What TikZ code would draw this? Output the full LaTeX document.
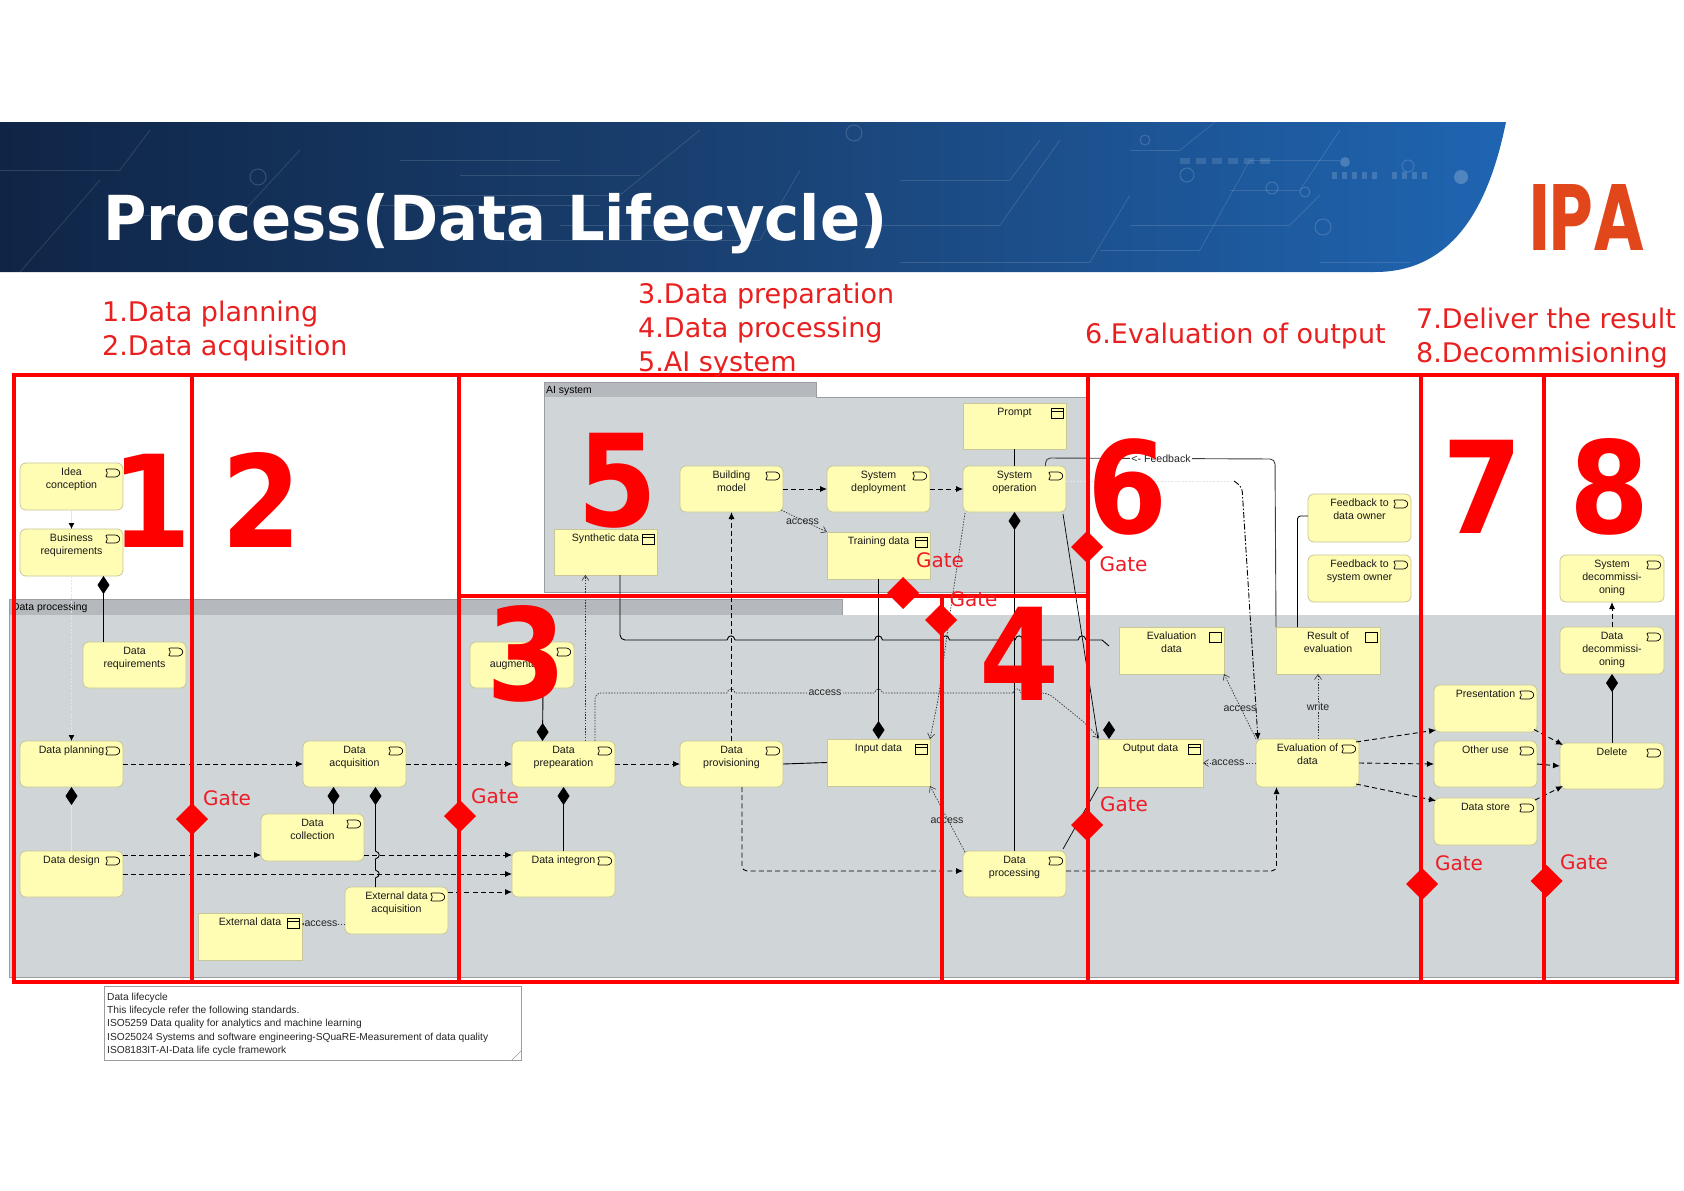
\documentclass[tikz,border=0pt]{standalone}
\usepackage{fontspec}
\setmainfont{Liberation Sans}
\newfontfamily\redf{DejaVu Sans}
\newfontfamily\ipaf{Poppins}
\usetikzlibrary{arrows.meta,calc,shapes.geometric}
\definecolor{bgray}{HTML}{D0D5D8}
\definecolor{tabgray}{HTML}{B5B9BD}
\definecolor{edgegray}{HTML}{9A9EA2}
\definecolor{yel}{HTML}{FFFDB4}
\definecolor{yedge}{HTML}{C8C79A}
\definecolor{faint}{HTML}{E2E5E7}
\definecolor{gatered}{HTML}{EE1C25}
\definecolor{capred}{HTML}{E8201F}
\definecolor{ipa}{HTML}{E2461B}
\definecolor{navyA}{HTML}{0F2546}
\definecolor{navyB}{HTML}{1A4274}
\definecolor{navyC}{HTML}{1F65B2}
\tikzset{
  procbox/.style={draw=yedge,fill=yel,rounded corners=6pt,inner sep=0pt,outer sep=0pt,line width=.8pt},
  databox/.style={draw=yedge,fill=yel,inner sep=0pt,outer sep=0pt,line width=.8pt},
  lbl/.style={inner sep=0pt,outer sep=0pt,align=center,font=\fontsize{10.6}{13}\selectfont,text=black!90},
  conlbl/.style={inner sep=1pt,font=\fontsize{10.6}{12}\selectfont,text=black!85},
  icn/.style={draw=black,line width=.7pt},
  trig/.style={draw=black,line width=.9pt,dash pattern=on 5pt off 3.2pt,-{Latex[length=7pt,width=6pt,fill=black]}},
  acc/.style={draw=black!80,line width=.7pt,dash pattern=on 1.4pt off 1.4pt,-{Straight Barb[length=5pt,width=7pt,line width=.6pt]}},
  comp/.style={draw=black,line width=.9pt,{Kite[length=18pt,width=12pt,inset=9pt,fill=black,black]}-},
  sline/.style={draw=black,line width=.9pt},
  redframe/.style={draw=red,line width=4pt,line cap=rect},
  bignum/.style={inner sep=0pt,text=red,xscale=.9,font=\redf\bfseries\fontsize{128}{128}\selectfont},
  gatelbl/.style={inner sep=0pt,text=gatered,font=\redf\fontsize{20}{20}\selectfont},
  gatedia/.style={fill=red,draw=none},
  captxt/.style={inner sep=0pt,anchor=base west,text=capred,font=\redf\fontsize{27}{27}\selectfont},
  circstyle/.style={draw=white,draw opacity=.16,line width=1pt}
}
\newcommand\geom[4]{\pgfmathsetmacro\gw{#3-#1}\pgfmathsetmacro\gh{#4-#2}\pgfmathsetmacro\cx{(#1+#3)/2}\pgfmathsetmacro\cy{(#2+#4)/2}}
% process element: name x1 y1 x2 y2 text
\newcommand\pnode[6]{\geom{#2}{#3}{#4}{#5}%
  \node[procbox,minimum width=\gw pt,minimum height=\gh pt] (#1) at (\cx,\cy) {};
  \node[lbl,anchor=north] (#1-t) at ([yshift=-5.2pt]#1.north) {#6};
  \draw[icn,rounded corners=2.2pt] ([xshift=-18pt,yshift=-6pt]#1.north east) -- ++(12.5,0) -- ++(3,4) -- ++(-3,4) -- ++(-12.5,0) -- ++(3,-4) -- cycle;}
% data element
\newcommand\dnode[6]{\geom{#2}{#3}{#4}{#5}%
  \node[databox,minimum width=\gw pt,minimum height=\gh pt] (#1) at (\cx,\cy) {};
  \node[lbl,anchor=north] (#1-t) at ([yshift=-5.2pt]#1.north) {#6};
  \draw[icn] ([xshift=-15pt,yshift=-5.5pt]#1.north east) rectangle ++(12,10);
  \draw[icn] ([xshift=-15pt,yshift=-8.8pt]#1.north east) -- ++(12,0);}
% data element whose icon shows no header
\newcommand\enode[6]{\geom{#2}{#3}{#4}{#5}%
  \node[databox,minimum width=\gw pt,minimum height=\gh pt] (#1) at (\cx,\cy) {};
  \node[lbl,anchor=north] (#1-t) at ([yshift=-5.2pt]#1.north) {#6};
  \draw[icn] ([xshift=-15pt,yshift=-5.5pt]#1.north east) rectangle ++(12,10);}
\newcommand\hj[2]{-- ({#1-4},#2) .. controls ({#1-3},{#2-5.5}) and ({#1+3},{#2-5.5}) .. ({#1+4},#2)}
\newcommand\vj[2]{-- (#1,{#2-4}) .. controls ({#1+5},{#2-2}) and ({#1+5},{#2+2}) .. (#1,{#2+4})}
\newcommand\gatedmd[2]{\fill[gatedia] (#1,{#2-16}) -- ({#1+16},#2) -- (#1,{#2+16}) -- ({#1-16},#2) -- cycle;}
\begin{document}
\begin{tikzpicture}[x=1pt,y=-1pt]
\useasboundingbox (0,0) rectangle (1684,1191);
\fill[white] (0,0) rectangle (1684,1191);

% banner
\begin{scope}
\clip (0,122) -- (1506,122) .. controls (1492,190) and (1462,272) .. (1375,272) -- (0,272) -- cycle;
\shade[left color=navyA,right color=navyC,middle color=navyB] (0,122) rectangle (1510,272);
\foreach \a/\b/\c/\d in {0/170/120/170, 120/170/150/130, 120/215/240/215, 240/215/300/150, 20/272/100/180,
   400/195/620/195, 620/195/700/130, 500/240/760/240, 760/240/800/170, 860/225/1000/225, 1000/225/1060/140,
   900/262/1090/262, 1090/262/1130/195, 1100/250/1200/250, 1200/250/1250/160, 1250/160/1340/160,
   1130/225/1290/225, 1290/225/1320/195, 1230/190/1300/190, 1300/190/1340/130, 1320/262/1410/262,
   400/160/560/160, 460/175/640/175, 380/205/600/205, 560/225/740/225, 900/180/1010/180, 1010/180/1040/140,
   1130/150/1180/150, 1180/150/1215/122}
   {\draw[white,opacity=.13,line width=.8pt] (\a,\b) -- (\c,\d);}
\foreach \x/\y/\r in {854/133/8, 258/177/8, 1187/175/7, 1305/192/5, 1323/227/8, 1272/188/6, 1408/166/6, 1145/140/5}
   {\draw[circstyle] (\x,\y) circle[radius=\r];}
\fill[white,opacity=.22] (1461,177) circle[radius=7];
\fill[white,opacity=.2] (1345,162) circle[radius=5];
\foreach \x in {1180,1196,1212,1228,1244,1260} {\fill[white,opacity=.12] (\x,158) rectangle ++(10,6);}
\foreach \x in {1332,1342,1352,1362,1372,1392,1402,1412,1422} {\fill[white,opacity=.16] (\x,172) rectangle ++(5,7);}
\end{scope}
\node[inner sep=0pt,anchor=base west,text=white,xscale=.955,font=\redf\bfseries\fontsize{62}{62}\selectfont] (title) at (103,240) {Process(Data Lifecycle)};
\node[inner sep=0pt,anchor=base,text=ipa,xscale=.74,font=\ipaf\bfseries\fontsize{94}{94}\selectfont] (logo) at (1587,250) {IPA};

% group frames
\fill[tabgray] (9,599) rectangle (842,615);
\fill[bgray] (9,615) rectangle (1675,977);
\draw[edgegray,line width=.8pt] (842,615) -- (842,599) -- (9,599) -- (9,977) -- (1675,977);
\node[inner sep=0pt,anchor=west,font=\fontsize{10.4}{11}\selectfont] (dplbl) at (12,607.5) {Data processing};
\fill[tabgray] (544,382) rectangle (816,397);
\fill[bgray] (544,397) rectangle (1087,592);
\draw[edgegray,line width=.8pt] (816,397) -- (816,382) -- (544,382) -- (544,592) -- (1087,592);
\draw[edgegray,line width=.8pt] (816,397) -- (1087,397);
\node[inner sep=0pt,anchor=west,font=\fontsize{10.4}{11}\selectfont] (ailbl) at (546,390.5) {AI system};

% elements
\pnode{idea}{20}{463}{123}{510}{Idea\\conception}
\pnode{bus}{20}{529}{123}{576}{Business\\requirements}
\pnode{req}{83}{642}{186}{688}{Data\\requirements}
\pnode{aug}{470}{642}{574}{688}{Data\\augmentation}
\pnode{plan}{20}{741}{123}{787}{Data planning}
\pnode{design}{20}{851}{123}{897}{Data design}
\pnode{acq}{303}{741}{406}{787}{Data\\acquisition}
\pnode{coll}{261}{814}{364}{861}{Data\\collection}
\pnode{extacq}{345}{887}{448}{934}{External data\\acquisition}
\dnode{extd}{198}{913}{302}{960}{External data}
\pnode{prep}{512}{741}{615}{787}{Data\\prepearation}
\pnode{integ}{512}{851}{615}{897}{Data integron}
\pnode{build}{680}{466}{783}{512}{Building\\model}
\pnode{deploy}{827}{466}{930}{512}{System\\deployment}
\pnode{oper}{963}{466}{1066}{512}{System\\operation}
\dnode{prompt}{963}{403}{1066}{449}{Prompt}
\dnode{synth}{554}{529}{657}{575}{Synthetic data}
\dnode{train}{827}{532}{930}{579}{Training data}
\pnode{prov}{680}{741}{783}{787}{Data\\provisioning}
\dnode{input}{827}{739}{930}{786}{Input data}
\pnode{proc}{963}{851}{1066}{897}{Data\\processing}
\enode{evald}{1119}{627}{1224}{674}{Evaluation\\data}
\enode{result}{1276}{627}{1380}{674}{Result of\\evaluation}
\pnode{fbowner}{1308}{494}{1411}{542}{Feedback to\\data owner}
\pnode{fbsys}{1308}{555}{1411}{602}{Feedback to\\system owner}
\pnode{sysdec}{1560}{555}{1664}{602}{System\\decommissi-\\oning}
\pnode{datadec}{1560}{627}{1664}{674}{Data\\decommissi-\\oning}
\dnode{output}{1098}{739}{1203}{787}{Output data}
\pnode{evalp}{1256}{739}{1359}{787}{Evaluation of\\data}
\pnode{pres}{1434}{685}{1537}{732}{Presentation}
\pnode{other}{1434}{741}{1537}{787}{Other use}
\pnode{store}{1434}{798}{1537}{845}{Data store}
\pnode{delete}{1560}{743}{1664}{789}{Delete}

% note
\node[draw=edgegray,fill=white,inner sep=0pt,minimum width=417pt,minimum height=74pt,line width=.7pt] (note) at (312.5,1023) {};
\draw[edgegray,line width=.6pt] (512,1060) -- (521,1051);
\node[inner sep=0pt,anchor=north west,align=left,font=\fontsize{10.2}{13.3}\selectfont,text=black!85] (notet) at (107,992.5)
 {Data lifecycle\\This lifecycle refer the following standards.\\ISO5259 Data quality for analytics and machine learning\\ISO25024 Systems and software engineering-SQuaRE-Measurement of data quality\\ISO8183IT-AI-Data life cycle framework};

% connectors: faint ones
\draw[faint,line width=.8pt,-{Latex[length=6pt,width=6pt,fill=black,black]}] (idea.south) -- (bus.north);
\draw[faint,line width=.8pt,dash pattern=on 2pt off 1.5pt,-{Latex[length=6pt,width=6pt,fill=black,black]}] (bus.south) -- (plan.north);
\draw[comp,draw=faint] (plan.south) -- (design.north);
\draw[faint,line width=.8pt,dash pattern=on 2pt off 1.5pt] ([yshift=8pt]oper.east) -- (1232,481);

% composition
\draw[comp] ([xshift=32pt]bus.south) -- ([xshift=-31pt]req.north);
\draw[comp] ([xshift=-21pt]prep.north) -- ([xshift=21pt]aug.south);
\draw[comp] (prep.south) -- (integ.north);
\draw[comp] ([xshift=-21pt]acq.south) -- ([xshift=21pt]coll.north);
\draw[comp] ([xshift=21pt]acq.south) \vj{375.5}{855} \vj{375.5}{874} -- ([xshift=-21pt]extacq.north);
\draw[comp] (oper.south) -- (proc.north);
\draw[comp] (input.north) -- (train.south);
\draw[comp] (datadec.south) -- (delete.north);

% triggering
\draw[trig] (plan.east) -- (acq.west);
\draw[trig] (acq.east) -- (prep.west);
\draw[trig] ([yshift=19pt]design.east) -- ([yshift=-17.5pt]coll.west);
\draw[trig] ([yshift=-17.5pt]coll.east) -- ([yshift=19pt]integ.west);
\draw[trig] (design.east) -- (integ.west);
\draw[trig] ([yshift=18.5pt]extacq.east) -- ([yshift=-18pt]integ.west);
\draw[trig] (prep.east) -- (prov.west);
\draw[trig] (prov.north) -- (build.south);
\draw[trig] (build.east) -- (deploy.west);
\draw[trig] (deploy.east) -- (oper.west);
\draw[trig,rounded corners=5pt] ([xshift=10.5pt]prov.south) -- (742,871) -- ([yshift=3pt]proc.west);
\draw[trig,rounded corners=5pt] ([yshift=3pt]proc.east) -- (1276.5,871) -- ([xshift=-31pt]evalp.south);
\draw[trig] (evalp.east) -- (other.west);
\draw[trig] ([xshift=-3pt,yshift=21pt]evalp.east) -- ([xshift=2pt,yshift=-21.5pt]pres.west);
\draw[trig] ([xshift=-3pt,yshift=-21pt]evalp.east) -- ([xshift=2pt,yshift=20.8pt]store.west);
\draw[trig] ([xshift=-3pt,yshift=-21pt]pres.east) -- ([xshift=3pt,yshift=21pt]delete.west);
\draw[trig] (other.east) -- (delete.west);
\draw[trig] ([xshift=-2pt,yshift=-2pt]store.north east) -- ([xshift=3pt,yshift=-20pt]delete.west);
\draw[trig] (datadec.north) -- (sysdec.south);
\draw[trig,dash pattern=on 6pt off 2pt on 1.5pt off 2pt,rounded corners=5pt] (1234,481) -- (1242,487) -- ([xshift=-49.5pt,yshift=-1pt]evalp.north);

% access
\draw[acc] ([xshift=21.9pt]prep.north) -- ([xshift=-20.1pt]synth.south);
\draw[acc] ([xshift=31.5pt]prep.north) [rounded corners=6pt] -- (595,693) -- (660,693) [sharp corners] \hj{731}{693} -- (825,693) \hj{878.5}{693} -- (1015,693) \hj{1017}{693} [rounded corners=6pt] -- (1048,693) -- (1085,723) [sharp corners] -- ([xshift=1pt,yshift=1pt]output.north west);
\draw[acc] ([xshift=-2pt,yshift=2pt]build.south east) -- (train.north west);
\draw[acc] ([xshift=2pt,yshift=-1pt]proc.north west) -- (input.south east);
\draw[acc,rounded corners=5pt] ([xshift=2pt,yshift=-1pt]oper.south west) -- (950.5,610) -- (938,700) -- (input.north east);
\draw[acc] (evalp.west) -- (output.east);
\draw[acc] (evalp.north west) -- (evald.south east);
\draw[acc] ([xshift=10.5pt]evalp.north) -- ([xshift=-10pt]result.south);
\draw[acc] ([yshift=-13.5pt]extacq.west) -- ([yshift=12.5pt]extd.east);

% solid lines
\coordinate (synthend) at (1109,646);
\draw[sline] ([xshift=14.5pt]synth.south) [rounded corners=5pt] -- (620,640) -- (680,640) [sharp corners] \hj{731}{640} \hj{878.5}{640} \hj{945.6}{640} \hj{1019}{640} \hj{1082}{640} -- (1102,640) -- (synthend);
\draw[comp,draw=bgray] ([xshift=-41.5pt]output.north) -- (synthend);
\draw[sline] (prompt.south) -- (oper.north);
\draw[sline] (prov.east) -- (input.west);
\draw[sline,line width=.7pt] ([xshift=-3pt,yshift=-2pt]oper.south east) -- ([yshift=0pt]output.north west);
\draw[sline,line width=.7pt] ([xshift=-3pt,yshift=2pt]proc.north east) -- (output.south west);
\draw[sline,black!75,rounded corners=5pt] ([xshift=31pt]oper.north) -- (1045.5,458) -- (1275,459) -- ([xshift=-52pt]result.north);
\draw[sline,rounded corners=3pt] ([xshift=-30.5pt]result.north) -- (1297.5,516) -- ([yshift=2pt]fbowner.west);

% connector labels
\node[conlbl,fill=white] (l1) at (1161,459) {<- Feedback};
\node[conlbl] (l2) at (802.5,522) {access};
\node[conlbl,fill=bgray] (l3) at (825,693) {access};
\node[conlbl] (l4) at (947,821) {access};
\node[conlbl,fill=bgray,inner sep=.5pt] (l5) at (1228,763) {access};
\node[conlbl] (l6) at (1240,709) {access};
\node[conlbl,fill=bgray] (l7) at (1318,707) {write};
\node[conlbl,fill=bgray] (l8) at (321,924) {access};

% red frames
\draw[redframe] (14,375) rectangle (1677,982);
\draw[redframe] (192,375) -- (192,982);
\draw[redframe] (459,375) -- (459,982);
\draw[redframe] (1087.5,375) -- (1087.5,982);
\draw[redframe] (1421,375) -- (1421,982);
\draw[redframe] (1544,375) -- (1544,982);
\draw[redframe] (459,596) -- (1087.5,596);
\draw[redframe] (942,596) -- (942,982);

% big numbers
\node[bignum] (n1) at (152,501) {1};
\node[bignum] (n2) at (262,500) {2};
\node[bignum] (n3) at (527,654) {3};
\node[bignum] (n4) at (1020,654) {4};
\node[bignum] (n5) at (618,481) {5};
\node[bignum] (n6) at (1128,487) {6};
\node[bignum] (n7) at (1483,487) {7};
\node[bignum] (n8) at (1610,487) {8};

% gates
\gatedmd{192}{819}
\gatedmd{460}{816}
\gatedmd{903}{593}
\gatedmd{941}{620}
\gatedmd{1087}{547}
\gatedmd{1087}{825}
\gatedmd{1422}{884}
\gatedmd{1546.5}{881}
\node[gatelbl] (g1) at (227,798) {Gate};
\node[gatelbl] (g2) at (495,796) {Gate};
\node[gatelbl] (g3) at (940,560) {Gate};
\node[gatelbl] (g4) at (973.5,599) {Gate};
\node[gatelbl] (g5) at (1123.5,564) {Gate};
\node[gatelbl] (g6) at (1124,804) {Gate};
\node[gatelbl] (g7) at (1459,863) {Gate};
\node[gatelbl] (g8) at (1584,862) {Gate};

% captions
\node[captxt] (c1) at (102,321) {1.Data planning};
\node[captxt] (c2) at (102,355) {2.Data acquisition};
\node[captxt] (c3) at (638,303) {3.Data preparation};
\node[captxt] (c4) at (638,337) {4.Data processing};
\node[captxt] (c5) at (638,371) {5.AI system};
\node[captxt] (c6) at (1085,343) {6.Evaluation of output};
\node[captxt] (c7) at (1416,328) {7.Deliver the result};
\node[captxt] (c8) at (1416,362) {8.Decommisioning};
\end{tikzpicture}
\end{document}
